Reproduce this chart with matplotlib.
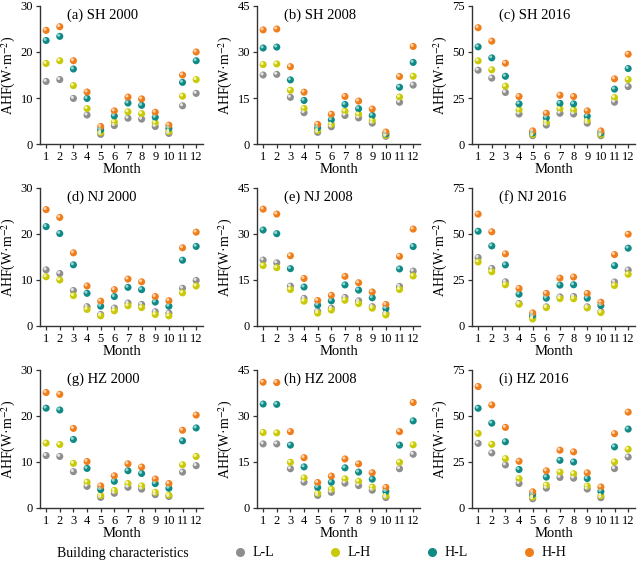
import matplotlib
matplotlib.use("Agg")
import matplotlib.pyplot as plt
from matplotlib.lines import Line2D
from matplotlib.transforms import offset_copy

plt.rcParams["font.family"] = ["Liberation Serif", "DejaVu Serif"]
plt.rcParams["mathtext.fontset"] = "stix"

months = list(range(1, 13))
series = ["L-L", "L-H", "H-L", "H-H"]
colors = ["#8e8e8e", "#c9c90a", "#108a86", "#f07d1c"]
highlights = ["#e6e6e6", "#f6f6a0", "#8fd6d2", "#ffd2a8"]

# each panel: [L-L, L-H, H-L, H-H]
sh_2000 = [
    [13.6, 14.0, 9.9, 6.3, 2.1, 4.0, 5.6, 5.4, 3.8, 2.3, 8.3, 11.0],
    [17.5, 18.1, 12.7, 7.7, 2.5, 4.8, 7.0, 6.6, 4.6, 2.7, 10.4, 14.0],
    [22.5, 23.4, 16.3, 9.9, 3.1, 6.1, 8.9, 8.4, 5.8, 3.4, 13.4, 18.1],
    [24.7, 25.5, 18.1, 11.3, 3.8, 7.2, 10.2, 9.8, 6.9, 4.1, 15.0, 20.0],
]
sh_2008 = [
    [22.5, 22.7, 15.2, 10.2, 3.8, 5.6, 9.3, 8.5, 6.8, 2.5, 13.6, 19.2],
    [25.9, 26.1, 17.5, 11.6, 4.4, 6.4, 10.7, 9.7, 7.7, 2.8, 15.3, 22.1],
    [31.3, 31.6, 20.9, 14.2, 5.3, 7.9, 12.9, 11.5, 9.3, 3.3, 18.5, 26.6],
    [37.2, 37.5, 25.2, 16.9, 6.4, 9.7, 15.5, 14.0, 11.4, 3.9, 22.0, 31.8],
]
sh_2016 = [
    [40.1, 35.8, 28.0, 16.3, 4.5, 10.3, 16.7, 16.3, 11.3, 4.5, 22.7, 31.2],
    [45.2, 40.3, 31.4, 18.5, 5.1, 11.8, 19.1, 18.5, 12.7, 5.1, 25.2, 35.0],
    [52.8, 46.8, 36.8, 21.8, 6.0, 14.2, 22.1, 21.8, 15.1, 6.0, 29.8, 41.0],
    [63.2, 55.9, 43.9, 25.8, 7.1, 16.7, 26.5, 25.8, 18.0, 7.1, 35.4, 48.8],
]
nj_2000 = [
    [12.2, 11.4, 7.7, 4.2, 2.5, 3.9, 5.0, 4.7, 3.1, 2.8, 8.2, 9.9],
    [10.7, 10.0, 6.6, 3.6, 2.2, 3.3, 4.4, 4.0, 2.5, 2.2, 7.2, 8.7],
    [21.6, 20.1, 13.3, 7.1, 4.3, 6.4, 8.4, 7.9, 5.2, 4.3, 14.3, 17.3],
    [25.3, 23.6, 15.9, 8.7, 5.4, 7.9, 10.2, 9.6, 6.4, 5.5, 17.0, 20.4],
]
nj_2008 = [
    [21.5, 20.6, 13.0, 9.0, 4.8, 5.8, 9.3, 8.2, 6.3, 4.1, 12.9, 17.9],
    [19.7, 19.0, 11.9, 8.1, 4.2, 5.2, 8.4, 7.3, 5.8, 3.6, 11.9, 16.3],
    [31.3, 30.1, 18.7, 12.7, 6.8, 8.2, 13.4, 11.7, 9.2, 5.7, 18.6, 25.9],
    [38.1, 36.5, 22.9, 15.5, 8.3, 10.0, 16.2, 14.1, 11.1, 7.0, 22.7, 31.6],
]
nj_2016 = [
    [37.2, 31.3, 24.0, 12.2, 4.9, 10.4, 15.8, 16.0, 10.4, 7.8, 23.9, 30.4],
    [34.8, 29.5, 22.4, 11.8, 3.8, 10.0, 14.9, 14.8, 9.8, 7.3, 22.0, 28.1],
    [51.5, 43.5, 33.2, 17.3, 5.8, 15.1, 22.2, 22.4, 15.1, 11.1, 32.8, 42.3],
    [60.8, 51.2, 39.2, 20.4, 7.1, 17.7, 26.0, 26.6, 17.7, 12.9, 38.8, 49.9],
]
hz_2000 = [
    [11.4, 11.2, 7.9, 4.7, 2.3, 3.2, 4.5, 4.1, 2.9, 2.5, 7.8, 9.2],
    [14.1, 13.8, 9.7, 5.6, 2.7, 3.8, 5.3, 4.8, 3.4, 2.8, 9.4, 11.2],
    [21.7, 21.3, 14.9, 8.6, 4.0, 5.8, 8.1, 7.5, 5.3, 4.3, 14.6, 17.4],
    [25.1, 24.7, 17.3, 10.1, 4.8, 7.0, 9.6, 8.9, 6.3, 5.3, 16.9, 20.2],
]
hz_2008 = [
    [20.9, 20.9, 12.8, 8.4, 4.1, 5.1, 8.1, 7.3, 5.8, 3.4, 12.8, 17.5],
    [24.6, 24.5, 14.9, 9.8, 4.8, 6.1, 9.5, 8.7, 6.8, 4.0, 14.9, 20.6],
    [33.9, 33.8, 20.5, 13.4, 6.7, 8.4, 13.1, 11.7, 9.4, 5.4, 20.5, 28.4],
    [41.0, 40.9, 24.9, 16.4, 8.3, 10.4, 16.0, 14.4, 11.5, 6.7, 24.9, 34.4],
]
hz_2016 = [
    [35.1, 29.9, 23.4, 13.3, 5.0, 10.8, 16.6, 16.2, 10.3, 5.6, 21.4, 27.7],
    [40.5, 34.6, 26.8, 15.9, 5.9, 12.4, 19.5, 18.6, 11.9, 6.7, 25.0, 31.9],
    [54.2, 46.1, 36.0, 20.9, 7.4, 16.8, 25.9, 25.0, 16.0, 9.0, 33.2, 42.9],
    [66.0, 56.0, 43.8, 25.4, 8.8, 20.2, 31.4, 30.5, 19.1, 11.4, 40.4, 52.1],
]

panels = [sh_2000, sh_2008, sh_2016, nj_2000, nj_2008, nj_2016, hz_2000, hz_2008, hz_2016]
titles = ["(a) SH 2000", "(b) SH 2008", "(c) SH 2016",
          "(d) NJ 2000", "(e) NJ 2008", "(f) NJ 2016",
          "(g) HZ 2000", "(h) HZ 2008", "(i) HZ 2016"]
ymax = [30, 45, 75]

W, H = 639, 562
fig = plt.figure(figsize=(W / 100, H / 100), dpi=100)

lefts = [40, 257, 472]
tops = [6, 188, 370]
aw, ah = 163, 138

for idx, (data, title) in enumerate(zip(panels, titles)):
    r, c = divmod(idx, 3)
    ax = fig.add_axes([lefts[c] / W, 1 - (tops[r] + ah) / H, aw / W, ah / H])
    hl_tr = offset_copy(ax.transData, fig=fig, x=-0.8, y=0.8, units="points")
    for vals, col, hcol in zip(data, colors, highlights):
        ax.scatter(months, vals, s=26, color=col, edgecolors="none", zorder=3)
        ax.scatter(months, vals, s=5, color=hcol, edgecolors="none", zorder=4,
                   transform=hl_tr)
    top = ymax[c]
    yt = [0, top / 3, 2 * top / 3, top]
    ax.set_ylim(0, top)
    ax.set_yticks(yt)
    ax.set_yticklabels([f"{v:g}" for v in yt])
    ax.set_xlim(0.55, 12.5)
    ax.set_xticks(months)
    for s in ["top", "right"]:
        ax.spines[s].set_visible(False)
    for s in ["left", "bottom"]:
        ax.spines[s].set_color("#333333")
        ax.spines[s].set_linewidth(1.0)
    ax.tick_params(axis="both", labelsize=9, length=3, width=0.9,
                   color="#333333", pad=2)
    ax.set_xlabel("Month", fontsize=10.5, labelpad=0)
    ax.set_ylabel("AHF(W·m$^{-2}$)", fontsize=10, labelpad=2)
    ax.text(0.165, 0.985, title, transform=ax.transAxes, fontsize=10.5,
            ha="left", va="top")

fig.text(57 / W, 1 - 553 / H, "Building characteristics", fontsize=10,
         ha="left", va="center")
handles = [Line2D([], [], ls="none", marker="o", markersize=6.5,
                  markerfacecolor=col, markeredgecolor="none") for col in colors]
fig.legend(handles, series, loc="center left", bbox_to_anchor=(233 / W, 1 - 553 / H),
           ncol=4, frameon=False, fontsize=10, handletextpad=0.4,
           columnspacing=3.9, handlelength=1.0, borderpad=0, borderaxespad=0)

fig.savefig("out.png", dpi=100)
